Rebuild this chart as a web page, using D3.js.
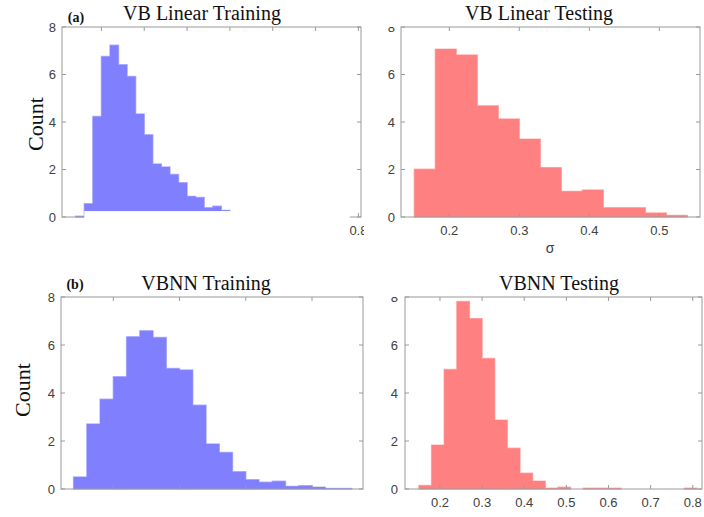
<!DOCTYPE html>
<html>
<head>
<meta charset="utf-8">
<script src="https://cdn.jsdelivr.net/npm/d3@7"></script>
<style>
  body { margin: 0; background: #fff; }
  svg { display: block; }
</style>
</head>
<body>
<svg id="fig" width="704" height="517"></svg>
<script>
// Histogram counts of sigma, one array per panel; bins are contiguous
// and start at the given edge with the given width.
const vbLinearTrainStart = 0.14, vbLinearTrainWidth = 0.02;
const vbLinearTrainCounts = [0.03, 0.56, 4.23, 6.76, 7.23, 6.41, 5.92, 4.34, 3.46,
  2.23, 2.11, 1.79, 1.44, 0.87, 0.82, 0.39, 0.45, 0.28];

const vbLinearTestStart = 0.15, vbLinearTestWidth = 0.03;
const vbLinearTestCounts = [2.01, 7.07, 6.82, 4.68, 4.13, 3.28, 2.08, 1.08, 1.14,
  0.39, 0.39, 0.17, 0.07];

const vbnnTrainStart = 0.14, vbnnTrainWidth = 0.02;
const vbnnTrainCounts = [0.50, 2.71, 3.74, 4.68, 6.34, 6.59, 6.31, 5.02, 4.96, 3.49,
  1.88, 1.52, 0.72, 0.39, 0.28, 0.32, 0.11, 0.14, 0.08, 0.02, 0.02];

const vbnnTestStart = 0.15, vbnnTestWidth = 0.03;
const vbnnTestCounts = [0.15, 1.83, 4.98, 7.81, 7.10, 5.44, 2.87, 1.70, 0.66, 0.33,
  0.03, 0.07, 0, 0.03, 0.03, 0.03, 0, 0, 0, 0, 0, 0.03];

// Axis ticks
const countTicks = [0, 2, 4, 6, 8];
const linearTrainXTicks = [0.2, 0.3, 0.4, 0.5, 0.6, 0.7, 0.8];
const linearTrainXLabels = ["0.8"];
const linearTestXTicks = [0.2, 0.3, 0.4, 0.5];
const vbnnTrainXTicks = [0.2, 0.3, 0.4, 0.5];
const vbnnTestXTicks = [0.2, 0.3, 0.4, 0.5, 0.6, 0.7, 0.8];

const titles = ["VB Linear Training", "VB Linear Testing", "VBNN Training", "VBNN Testing"];
const tags = ["(a)", "(b)"];

const BLUE = "#8080ff", RED = "#ff8080";
const BLUE_EDGE = "#b8b8ff", RED_EDGE = "#ffb8b8";
const AXIS = "#9a9a9a", TICKTXT = "#404040";

const svg = d3.select("#fig");
const defs = svg.append("defs");

function bins(start, width, counts) {
  return counts.map((c, i) => ({ x0: start + i * width, x1: start + (i + 1) * width, c }));
}

function panel(o) {
  const x = d3.scaleLinear().domain(o.xDomain).range([o.left, o.right]);
  const y = d3.scaleLinear().domain([0, 8]).range([o.bottom, o.top]);
  const g = svg.append("g");
  const data = bins(o.start, o.width, o.counts).filter(d => d.c > 0);

  // all bars of one histogram as a single path, so neighbours join without seams
  const p = d3.path();
  data.forEach(d => p.rect(x(d.x0), y(d.c), x(d.x1) - x(d.x0), y(0) - y(d.c)));
  const barPath = p.toString();
  // light outline underneath, fill on top so only the outer edge shows
  g.append("path").attr("d", barPath)
    .attr("fill", o.color).attr("stroke", o.edge).attr("stroke-width", 1.4);
  g.append("path").attr("d", barPath).attr("fill", o.color);

  // box frame
  g.append("rect")
    .attr("x", o.left).attr("y", o.top)
    .attr("width", o.right - o.left).attr("height", o.bottom - o.top)
    .attr("fill", "none").attr("stroke", AXIS).attr("stroke-width", 1);

  const tl = 4;
  // inward ticks on all four sides
  const tk = g.append("g").attr("stroke", AXIS).attr("stroke-width", 1);
  o.xTicks.forEach(v => {
    tk.append("line").attr("x1", x(v)).attr("x2", x(v)).attr("y1", o.bottom).attr("y2", o.bottom - tl);
    tk.append("line").attr("x1", x(v)).attr("x2", x(v)).attr("y1", o.top).attr("y2", o.top + tl);
  });
  countTicks.forEach(v => {
    tk.append("line").attr("x1", o.left).attr("x2", o.left + tl).attr("y1", y(v)).attr("y2", y(v));
    tk.append("line").attr("x1", o.right).attr("x2", o.right - tl).attr("y1", y(v)).attr("y2", y(v));
  });

  // y tick labels
  const yl = g.append("g");
  if (o.yClipTop) {
    const id = "clip" + o.id;
    defs.append("clipPath").attr("id", id).append("rect")
      .attr("x", 0).attr("y", o.top).attr("width", 704).attr("height", 517);
    yl.attr("clip-path", `url(#${id})`);
  }
  yl.selectAll("text").data(countTicks).join("text")
    .attr("x", o.yLabelX).attr("y", d => y(d))
    .attr("dy", "0.36em")
    .attr("text-anchor", "end")
    .attr("font-family", "Liberation Sans, Arial, sans-serif")
    .attr("font-size", 13)
    .attr("fill", TICKTXT)
    .text(d => d);

  // white patch hiding part of the lower axis region
  if (o.mask) {
    g.append("rect")
      .attr("x", x(o.mask[0])).attr("width", x(o.mask[1]) - x(o.mask[0]))
      .attr("y", y(o.mask[2])).attr("height", 245 - y(o.mask[2]))
      .attr("fill", "#fff");
  }

  // x tick labels
  if (o.xLabels) {
    const xl = g.append("g");
    if (o.xClipRight) {
      const id = "clipx" + o.id;
      defs.append("clipPath").attr("id", id).append("rect")
        .attr("x", 0).attr("y", 0).attr("width", o.xClipRight).attr("height", 517);
      xl.attr("clip-path", `url(#${id})`);
    }
    xl.selectAll("text").data(o.xLabels).join("text")
      .attr("x", d => x(+d)).attr("y", o.bottom + 18)
      .attr("text-anchor", "middle")
      .attr("font-family", "Liberation Sans, Arial, sans-serif")
      .attr("font-size", 13)
      .attr("fill", TICKTXT)
      .text(d => d);
  }

  // title
  svg.append("text")
    .attr("x", o.titleX).attr("y", o.top - 7)
    .attr("text-anchor", "middle")
    .attr("font-family", "Liberation Serif, Times New Roman, serif")
    .attr("font-size", 20)
    .attr("fill", "#111")
    .text(o.title);

  return { x, y };
}

panel({
  id: "a", left: 62, right: 361, top: 27, bottom: 217,
  xDomain: [0.108, 0.806], start: vbLinearTrainStart, width: vbLinearTrainWidth,
  counts: vbLinearTrainCounts, color: BLUE, edge: BLUE_EDGE, xTicks: linearTrainXTicks,
  xLabels: linearTrainXLabels, xClipRight: 364, yLabelX: 56,
  mask: [0.16, 0.78, 0.25], title: titles[0], titleX: 202
});
panel({
  id: "b", left: 401, right: 700, top: 27, bottom: 217,
  xDomain: [0.131, 0.558], start: vbLinearTestStart, width: vbLinearTestWidth,
  counts: vbLinearTestCounts, color: RED, edge: RED_EDGE, xTicks: linearTestXTicks,
  xLabels: linearTestXTicks.map(d => d.toFixed(1)), yLabelX: 395, yClipTop: true,
  title: titles[1], titleX: 539
});
panel({
  id: "c", left: 61, right: 363, top: 297, bottom: 489,
  xDomain: [0.121, 0.577], start: vbnnTrainStart, width: vbnnTrainWidth,
  counts: vbnnTrainCounts, color: BLUE, edge: BLUE_EDGE, xTicks: vbnnTrainXTicks,
  yLabelX: 55, title: titles[2], titleX: 206
});
panel({
  id: "d", left: 405, right: 702, top: 297, bottom: 489,
  xDomain: [0.117, 0.822], start: vbnnTestStart, width: vbnnTestWidth,
  counts: vbnnTestCounts, color: RED, edge: RED_EDGE, xTicks: vbnnTestXTicks,
  xLabels: vbnnTestXTicks.map(d => d.toFixed(1)), yLabelX: 398, yClipTop: true,
  title: titles[3], titleX: 559
});

// y-axis titles
[[35, 124], [22, 390]].forEach(([cx, cy]) => {
  svg.append("text")
    .attr("transform", `translate(${cx},${cy}) rotate(-90)`)
    .attr("dy", "0.35em")
    .attr("text-anchor", "middle")
    .attr("font-family", "Liberation Serif, Times New Roman, serif")
    .attr("font-size", 22)
    .attr("fill", "#111")
    .text("Count");
});

// x-axis symbol under the testing histogram
svg.append("text")
  .attr("x", 550).attr("y", 253)
  .attr("text-anchor", "middle")
  .attr("font-family", "Liberation Sans, Arial, sans-serif")
  .attr("font-size", 14)
  .attr("fill", TICKTXT)
  .text("σ");

// panel tags
[[76, 22, tags[0]], [75, 289, tags[1]]].forEach(([tx, ty, t]) => {
  svg.append("text")
    .attr("x", tx).attr("y", ty)
    .attr("text-anchor", "middle")
    .attr("font-family", "Liberation Serif, Times New Roman, serif")
    .attr("font-weight", "bold")
    .attr("font-size", 14)
    .attr("fill", "#111")
    .text(t);
});
</script>
</body>
</html>
